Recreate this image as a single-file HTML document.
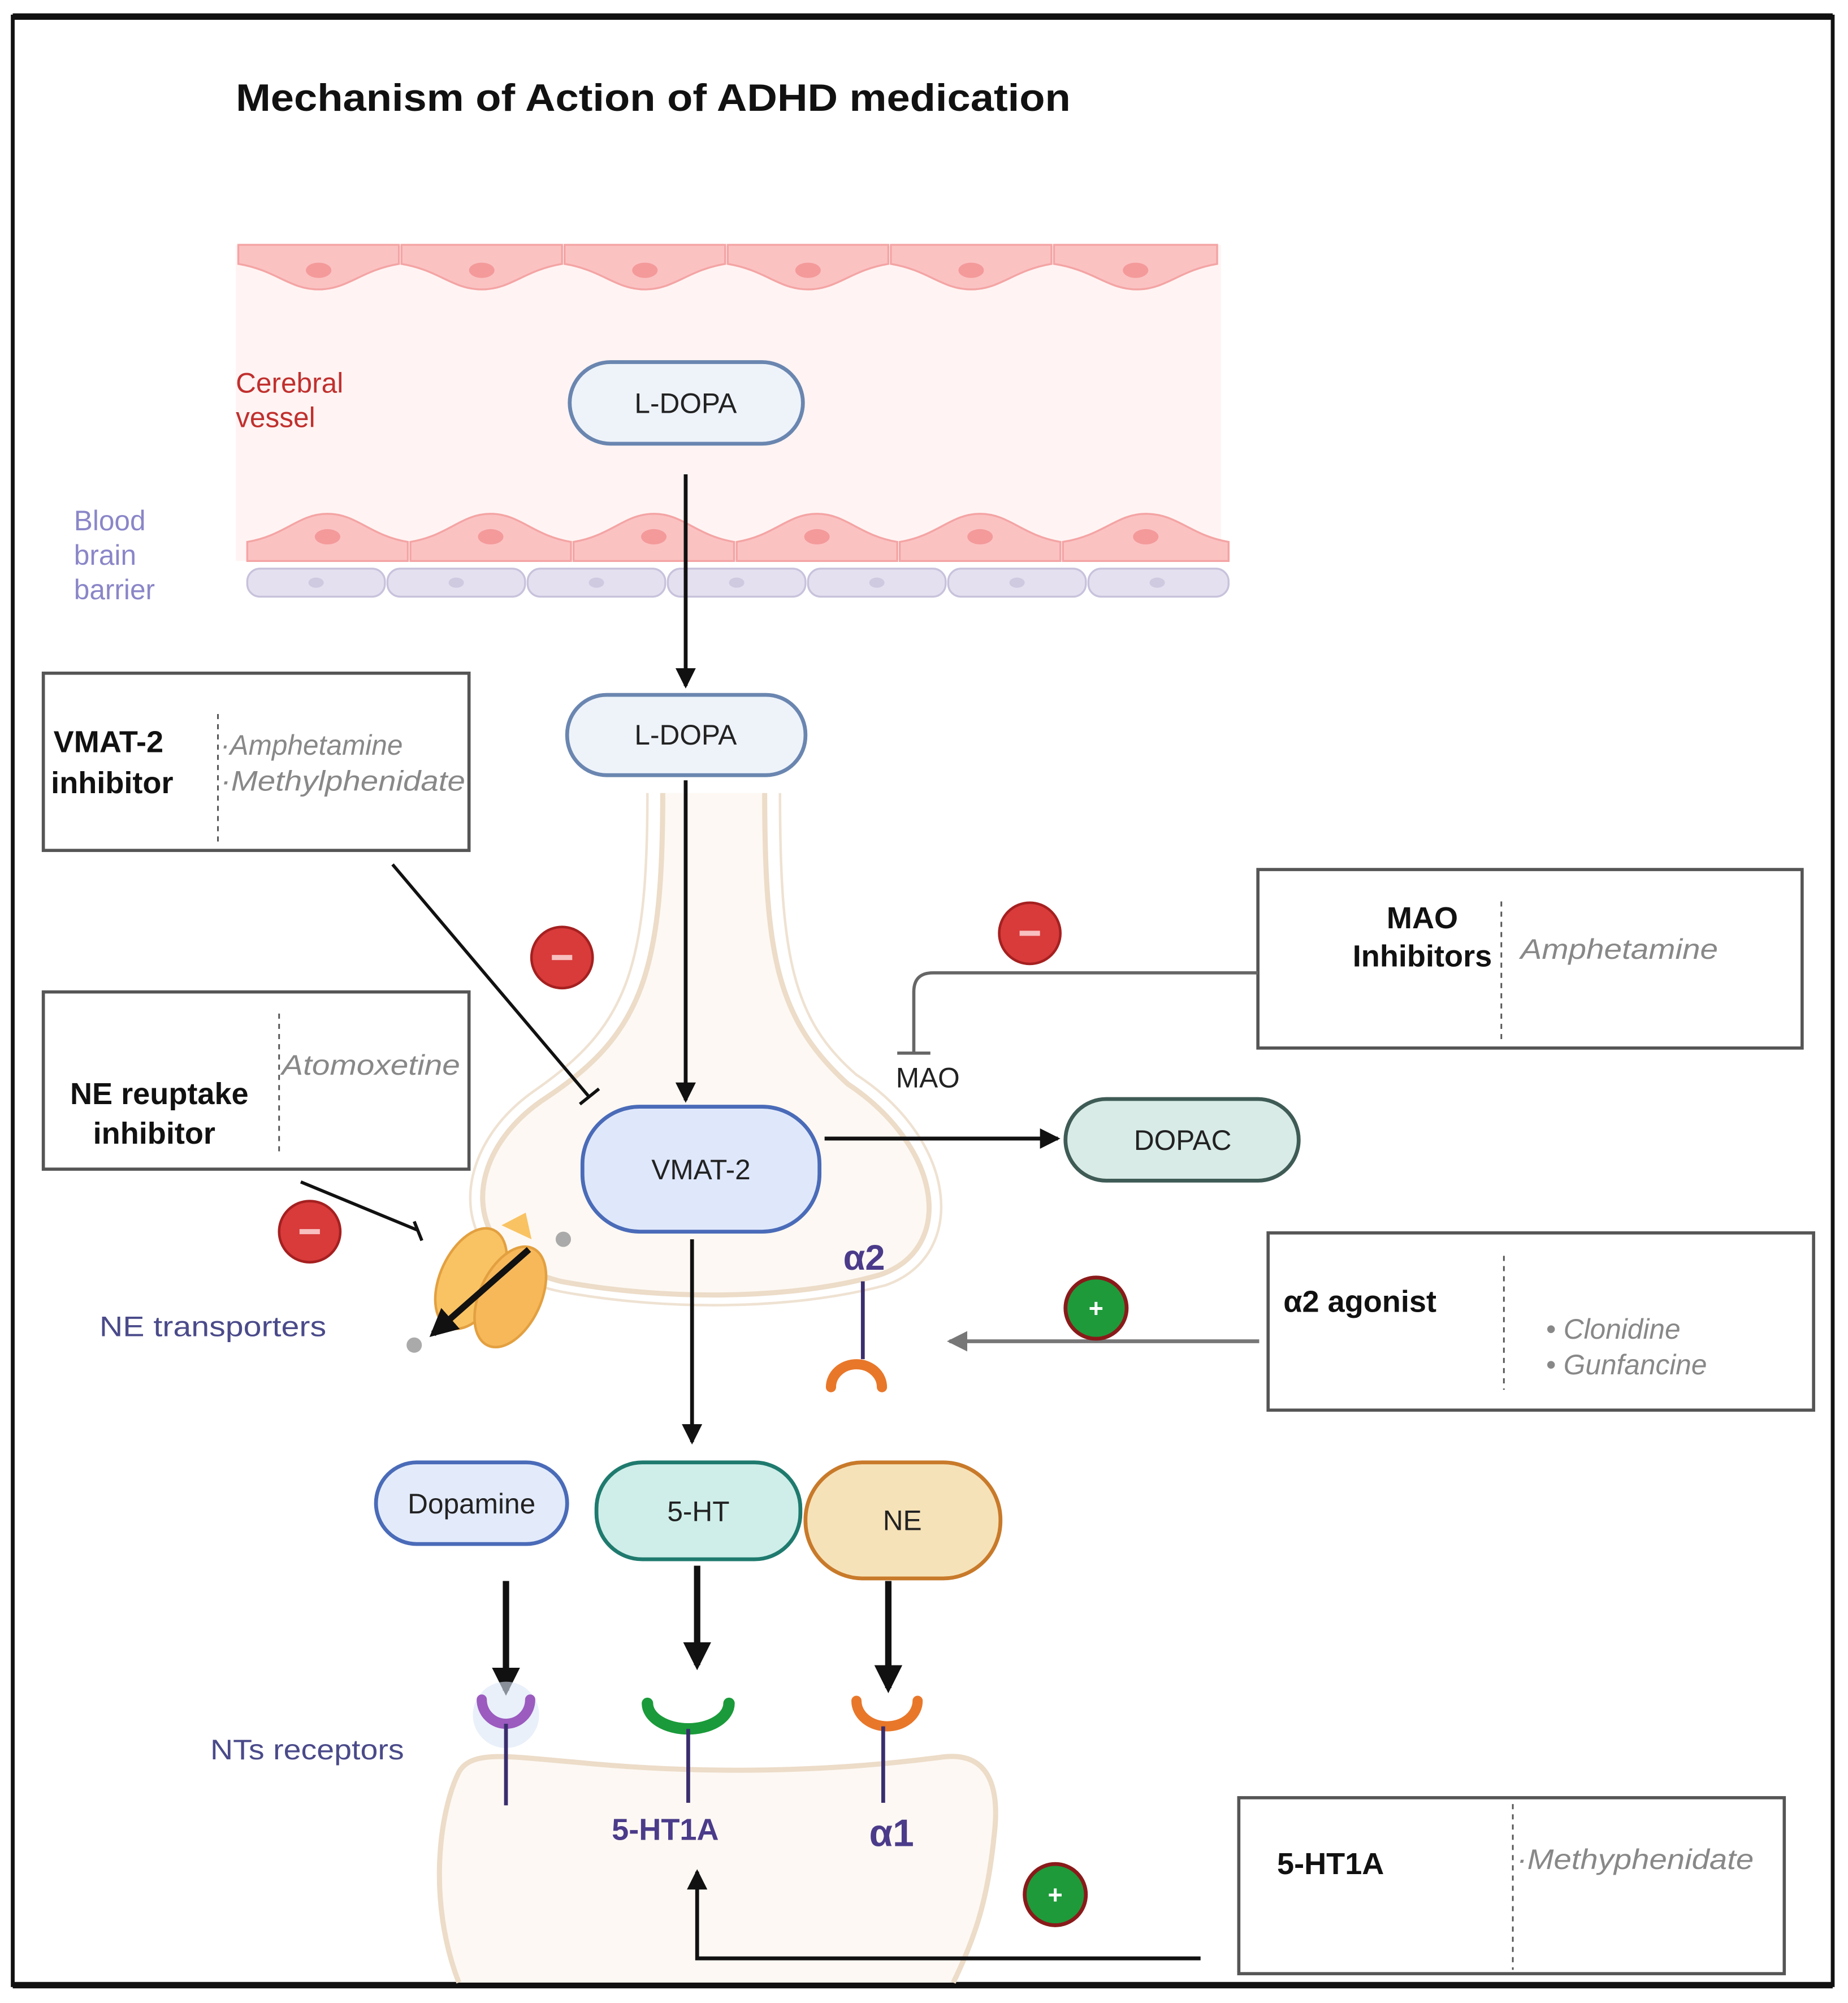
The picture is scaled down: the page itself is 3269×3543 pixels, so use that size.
<!DOCTYPE html>
<html><head><meta charset="utf-8"><style>
html,body{margin:0;padding:0;background:#fff;}
svg{display:block;}
text{font-family:"Liberation Sans",sans-serif;}
</style></head><body>
<svg width="3269" height="3543" viewBox="0 0 1450 1571" preserveAspectRatio="none" xmlns="http://www.w3.org/2000/svg">
<defs>
<marker id="ahb" markerWidth="22" markerHeight="22" refX="18" refY="11" orient="auto" markerUnits="userSpaceOnUse"><path d="M0,0 L22,11 L0,22z" fill="#111"/></marker>
<marker id="ahm" markerWidth="16" markerHeight="16" refX="14" refY="8" orient="auto" markerUnits="userSpaceOnUse"><path d="M0,0 L16,8 L0,16z" fill="#111"/></marker>
<marker id="ahg" markerWidth="16" markerHeight="16" refX="14" refY="8" orient="auto" markerUnits="userSpaceOnUse"><path d="M0,0 L16,8 L0,16z" fill="#777"/></marker>
</defs>
<rect x="0" y="0" width="1450" height="1571" fill="#fff"/>
<rect x="10" y="13" width="1428" height="1544" fill="none" stroke="#111" stroke-width="3"/>
<line x1="10" y1="13" x2="1438" y2="13" stroke="#111" stroke-width="5"/>
<line x1="10" y1="1557" x2="1438" y2="1557" stroke="#111" stroke-width="5"/>

<text x="185" y="87" font-size="30" font-weight="bold" fill="#111" textLength="655" lengthAdjust="spacingAndGlyphs">Mechanism of Action of ADHD medication</text>

<rect x="185" y="192" width="773" height="248" fill="#fff4f3"/>
<g fill="#fbc2c2" stroke="#f4a4a4" stroke-width="1.5">
<path d="M187,192 h126 v15 c-30,5 -40,20 -63,20 c-23,0 -33,-15 -63,-20z"/>
<path d="M315,192 h126 v15 c-30,5 -40,20 -63,20 c-23,0 -33,-15 -63,-20z"/>
<path d="M443,192 h126 v15 c-30,5 -40,20 -63,20 c-23,0 -33,-15 -63,-20z"/>
<path d="M571,192 h126 v15 c-30,5 -40,20 -63,20 c-23,0 -33,-15 -63,-20z"/>
<path d="M699,192 h126 v15 c-30,5 -40,20 -63,20 c-23,0 -33,-15 -63,-20z"/>
<path d="M827,192 h128 v15 c-30,5 -40,20 -63,20 c-23,0 -33,-15 -65,-20z"/>
<path d="M194,440 h126 v-15 c-30,-5 -40,-22 -63,-22 c-23,0 -33,17 -63,22z"/>
<path d="M322,440 h126 v-15 c-30,-5 -40,-22 -63,-22 c-23,0 -33,17 -63,22z"/>
<path d="M450,440 h126 v-15 c-30,-5 -40,-22 -63,-22 c-23,0 -33,17 -63,22z"/>
<path d="M578,440 h126 v-15 c-30,-5 -40,-22 -63,-22 c-23,0 -33,17 -63,22z"/>
<path d="M706,440 h126 v-15 c-30,-5 -40,-22 -63,-22 c-23,0 -33,17 -63,22z"/>
<path d="M834,440 h130 v-15 c-30,-5 -40,-22 -65,-22 c-23,0 -33,17 -65,22z"/>
</g>
<g fill="#f49a9a">
<ellipse cx="250" cy="212" rx="10" ry="6"/><ellipse cx="378" cy="212" rx="10" ry="6"/><ellipse cx="506" cy="212" rx="10" ry="6"/><ellipse cx="634" cy="212" rx="10" ry="6"/><ellipse cx="762" cy="212" rx="10" ry="6"/><ellipse cx="891" cy="212" rx="10" ry="6"/>
<ellipse cx="257" cy="421" rx="10" ry="6"/><ellipse cx="385" cy="421" rx="10" ry="6"/><ellipse cx="513" cy="421" rx="10" ry="6"/><ellipse cx="641" cy="421" rx="10" ry="6"/><ellipse cx="769" cy="421" rx="10" ry="6"/><ellipse cx="899" cy="421" rx="10" ry="6"/>
</g>
<g fill="#e4e0ef" stroke="#c8c2dc" stroke-width="1.5">
<rect x="194" y="446" width="108" height="22" rx="10"/><rect x="304" y="446" width="108" height="22" rx="10"/><rect x="414" y="446" width="108" height="22" rx="10"/><rect x="524" y="446" width="108" height="22" rx="10"/><rect x="634" y="446" width="108" height="22" rx="10"/><rect x="744" y="446" width="108" height="22" rx="10"/><rect x="854" y="446" width="110" height="22" rx="10"/>
</g>
<g fill="#cfcae0"><ellipse cx="248" cy="457" rx="6" ry="4"/><ellipse cx="358" cy="457" rx="6" ry="4"/><ellipse cx="468" cy="457" rx="6" ry="4"/><ellipse cx="578" cy="457" rx="6" ry="4"/><ellipse cx="688" cy="457" rx="6" ry="4"/><ellipse cx="798" cy="457" rx="6" ry="4"/><ellipse cx="908" cy="457" rx="6" ry="4"/></g>
<text x="185" y="308" font-size="22" fill="#c0302e">Cerebral</text>
<text x="185" y="335" font-size="22" fill="#c0302e">vessel</text>
<text x="58" y="416" font-size="22" fill="#8a86c8">Blood</text>
<text x="58" y="443" font-size="22" fill="#8a86c8">brain</text>
<text x="58" y="470" font-size="22" fill="#8a86c8">barrier</text>

<path d="M520,622 C520,760 505,810 430,860 C360,905 360,985 440,1005 C520,1020 620,1020 690,1000 C750,980 740,900 665,850 C610,800 600,750 600,622" fill="#fdf8f3" stroke="#ecdcc8" stroke-width="4"/>
<path d="M508,622 C508,760 492,805 420,855 C348,905 350,995 440,1013 C520,1028 620,1028 695,1008 C760,985 752,895 672,843 C622,800 612,750 612,622" fill="none" stroke="#efe2d2" stroke-width="2"/>
<path d="M360,1555 C335,1490 345,1420 360,1390 C370,1372 400,1378 450,1382 C550,1392 650,1390 740,1378 C775,1374 785,1400 780,1440 C775,1490 765,1520 748,1555" fill="#fdf8f3" stroke="#ecdcc8" stroke-width="4"/>

<rect x="447" y="284" width="183" height="64" rx="32" fill="#eef3fa" stroke="#6a86b0" stroke-width="3"/>
<text x="538" y="324" font-size="22" text-anchor="middle" fill="#222">L-DOPA</text>
<line x1="538" y1="372" x2="538" y2="538" stroke="#111" stroke-width="3" marker-end="url(#ahm)"/>
<rect x="445" y="545" width="187" height="63" rx="31" fill="#eef3fa" stroke="#6a86b0" stroke-width="3"/>
<text x="538" y="584" font-size="22" text-anchor="middle" fill="#222">L-DOPA</text>
<line x1="538" y1="612" x2="538" y2="863" stroke="#111" stroke-width="3" marker-end="url(#ahm)"/>

<rect x="34" y="528" width="334" height="139" fill="#fff" stroke="#555" stroke-width="2.5"/>
<line x1="171" y1="560" x2="171" y2="662" stroke="#555" stroke-width="1.3" stroke-dasharray="4,4"/>
<text x="42" y="590" font-size="24" font-weight="bold" fill="#111">VMAT-2</text>
<text x="40" y="622" font-size="24" font-weight="bold" fill="#111">inhibitor</text>
<text x="173" y="592" font-size="22" font-style="italic" fill="#888">·Amphetamine</text>
<text x="173" y="620" font-size="22" font-style="italic" fill="#888" textLength="192" lengthAdjust="spacingAndGlyphs">·Methylphenidate</text>
<line x1="308" y1="678" x2="462" y2="860" stroke="#111" stroke-width="2.5"/>
<line x1="455" y1="866" x2="470" y2="854" stroke="#111" stroke-width="2.5"/>
<circle cx="441" cy="751" r="24" fill="#d93a3a" stroke="#a52020" stroke-width="2"/>
<rect x="433" y="749" width="16" height="4" fill="#f8c0c0"/>

<rect x="34" y="778" width="334" height="139" fill="#fff" stroke="#555" stroke-width="2.5"/>
<line x1="219" y1="795" x2="219" y2="905" stroke="#555" stroke-width="1.3" stroke-dasharray="4,4"/>
<text x="221" y="843" font-size="22" font-style="italic" fill="#888" textLength="140" lengthAdjust="spacingAndGlyphs">Atomoxetine</text>
<text x="125" y="866" font-size="24" font-weight="bold" fill="#111" text-anchor="middle">NE reuptake</text>
<text x="121" y="897" font-size="24" font-weight="bold" fill="#111" text-anchor="middle">inhibitor</text>
<line x1="236" y1="927" x2="328" y2="965" stroke="#111" stroke-width="2.5"/>
<line x1="325" y1="958" x2="331" y2="973" stroke="#111" stroke-width="2.5"/>
<circle cx="243" cy="966" r="24" fill="#d93a3a" stroke="#a52020" stroke-width="2"/>
<rect x="235" y="964" width="16" height="4" fill="#f8c0c0"/>

<g transform="rotate(25 385 1010)">
<ellipse cx="368" cy="1010" rx="24" ry="42" fill="#f9c363" stroke="#e3a040" stroke-width="2"/>
<ellipse cx="402" cy="1010" rx="24" ry="42" fill="#f7b85a" stroke="#e3a040" stroke-width="2"/>
<path d="M372,962 L385,945 L398,962" fill="#f9c363"/>
</g>
<circle cx="442" cy="972" r="6" fill="#aaa"/>
<circle cx="325" cy="1055" r="6" fill="#aaa"/>
<line x1="415" y1="980" x2="340" y2="1046" stroke="#111" stroke-width="5" marker-end="url(#ahb)"/>
<text x="78" y="1048" font-size="22" fill="#4a4a8a" textLength="178" lengthAdjust="spacingAndGlyphs">NE  transporters</text>

<rect x="987" y="682" width="427" height="140" fill="#fff" stroke="#555" stroke-width="2.5"/>
<line x1="1178" y1="707" x2="1178" y2="817" stroke="#555" stroke-width="1.3" stroke-dasharray="4,4"/>
<text x="1116" y="728" font-size="24" font-weight="bold" fill="#111" text-anchor="middle">MAO</text>
<text x="1116" y="758" font-size="24" font-weight="bold" fill="#111" text-anchor="middle">Inhibitors</text>
<text x="1193" y="752" font-size="22" font-style="italic" fill="#888" textLength="155" lengthAdjust="spacingAndGlyphs">Amphetamine</text>
<path d="M987,763 H732 Q717,763 717,778 V825" fill="none" stroke="#666" stroke-width="2.5"/>
<line x1="704" y1="826" x2="730" y2="826" stroke="#666" stroke-width="2.5"/>
<text x="728" y="853" font-size="22" text-anchor="middle" fill="#222">MAO</text>
<circle cx="808" cy="732" r="24" fill="#d93a3a" stroke="#a52020" stroke-width="2"/>
<rect x="800" y="730" width="16" height="4" fill="#f8c0c0"/>

<rect x="457" y="868" width="186" height="98" rx="45" fill="#dfe8fb" stroke="#4a6bb8" stroke-width="3"/>
<text x="550" y="925" font-size="22" text-anchor="middle" fill="#222">VMAT-2</text>
<line x1="647" y1="893" x2="830" y2="893" stroke="#111" stroke-width="3" marker-end="url(#ahm)"/>
<rect x="836" y="862" width="183" height="64" rx="32" fill="#d8ebe7" stroke="#3f5b55" stroke-width="3"/>
<text x="928" y="902" font-size="22" text-anchor="middle" fill="#222">DOPAC</text>
<line x1="543" y1="972" x2="543" y2="1131" stroke="#111" stroke-width="3" marker-end="url(#ahm)"/>

<text x="678" y="996" font-size="28" font-weight="bold" fill="#4b3b8a" text-anchor="middle">α2</text>
<line x1="677" y1="1005" x2="677" y2="1066" stroke="#3a2e6e" stroke-width="3"/>
<path d="M652,1088 A20,18 0 0 1 692,1088" fill="none" stroke="#e8772a" stroke-width="8" stroke-linecap="round"/>

<rect x="995" y="967" width="428" height="139" fill="#fff" stroke="#555" stroke-width="2.5"/>
<line x1="1180" y1="985" x2="1180" y2="1090" stroke="#555" stroke-width="1.3" stroke-dasharray="4,4"/>
<text x="1007" y="1029" font-size="24" font-weight="bold" fill="#111">α2 agonist</text>
<text x="1213" y="1050" font-size="22" font-style="italic" fill="#888">• Clonidine</text>
<text x="1213" y="1078" font-size="22" font-style="italic" fill="#888">• Gunfancine</text>
<line x1="988" y1="1052" x2="745" y2="1052" stroke="#777" stroke-width="3" marker-end="url(#ahg)"/>
<circle cx="860" cy="1026" r="24" fill="#1e9a3a" stroke="#8a1a1a" stroke-width="3"/>
<text x="860" y="1033" font-size="20" font-weight="bold" fill="#fff" text-anchor="middle">+</text>

<rect x="295" y="1147" width="150" height="64" rx="32" fill="#e3ebfb" stroke="#4a6bb8" stroke-width="3"/>
<text x="370" y="1187" font-size="22" text-anchor="middle" fill="#222">Dopamine</text>
<rect x="468" y="1147" width="160" height="76" rx="36" fill="#cfeee9" stroke="#1f7a6e" stroke-width="3"/>
<text x="548" y="1193" font-size="22" text-anchor="middle" fill="#222">5-HT</text>
<rect x="632" y="1147" width="153" height="91" rx="45" fill="#f6e2b8" stroke="#c87a2a" stroke-width="3"/>
<text x="708" y="1200" font-size="22" text-anchor="middle" fill="#222">NE</text>
<line x1="397" y1="1240" x2="397" y2="1326" stroke="#111" stroke-width="5" marker-end="url(#ahb)"/>
<line x1="547" y1="1228" x2="547" y2="1306" stroke="#111" stroke-width="5" marker-end="url(#ahb)"/>
<line x1="697" y1="1240" x2="697" y2="1324" stroke="#111" stroke-width="5" marker-end="url(#ahb)"/>

<circle cx="397" cy="1345" r="26" fill="#dbe6f7" opacity="0.6"/>
<path d="M378,1333 A19,19 0 0 0 416,1333" fill="none" stroke="#9b5bbf" stroke-width="8" stroke-linecap="round"/>
<line x1="397" y1="1352" x2="397" y2="1416" stroke="#3a2e6e" stroke-width="3"/>
<path d="M508,1336 A32,20 0 0 0 572,1336" fill="none" stroke="#1a9a3a" stroke-width="9" stroke-linecap="round"/>
<line x1="540" y1="1356" x2="540" y2="1414" stroke="#3a2e6e" stroke-width="3"/>
<path d="M672,1334 A24,20 0 0 0 720,1334" fill="none" stroke="#e8772a" stroke-width="8" stroke-linecap="round"/>
<line x1="693" y1="1354" x2="693" y2="1414" stroke="#3a2e6e" stroke-width="3"/>
<text x="165" y="1380" font-size="22" fill="#4a4a8a" textLength="152" lengthAdjust="spacingAndGlyphs">NTs receptors</text>
<text x="480" y="1443" font-size="24" font-weight="bold" fill="#4b3b8a">5-HT1A</text>
<text x="682" y="1448" font-size="30" font-weight="bold" fill="#4b3b8a">α1</text>

<rect x="972" y="1410" width="428" height="138" fill="#fff" stroke="#555" stroke-width="2.5"/>
<line x1="1187" y1="1415" x2="1187" y2="1545" stroke="#555" stroke-width="1.3" stroke-dasharray="4,4"/>
<text x="1002" y="1470" font-size="24" font-weight="bold" fill="#111">5-HT1A</text>
<text x="1190" y="1466" font-size="22" font-style="italic" fill="#888" textLength="186" lengthAdjust="spacingAndGlyphs">·Methyphenidate</text>
<path d="M942,1536 H547 V1468" fill="none" stroke="#111" stroke-width="3" marker-end="url(#ahm)"/>
<circle cx="828" cy="1486" r="24" fill="#1e9a3a" stroke="#8a1a1a" stroke-width="3"/>
<text x="828" y="1493" font-size="20" font-weight="bold" fill="#fff" text-anchor="middle">+</text>
</svg>
</body></html>
